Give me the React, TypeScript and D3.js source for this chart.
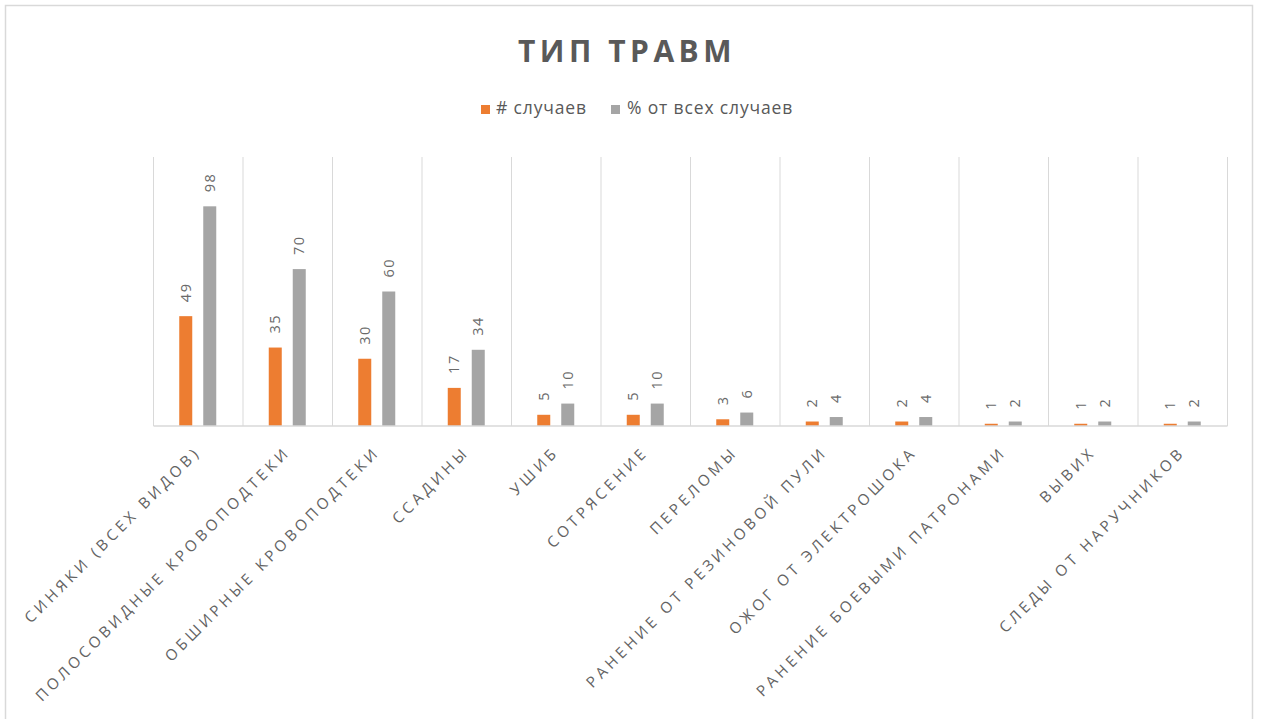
import React from "react";
import * as d3 from "d3";

const categories = [
  "СИНЯКИ (ВСЕХ ВИДОВ)",
  "ПОЛОСОВИДНЫЕ КРОВОПОДТЕКИ",
  "ОБШИРНЫЕ КРОВОПОДТЕКИ",
  "ССАДИНЫ",
  "УШИБ",
  "СОТРЯСЕНИЕ",
  "ПЕРЕЛОМЫ",
  "РАНЕНИЕ ОТ РЕЗИНОВОЙ ПУЛИ",
  "ОЖОГ ОТ ЭЛЕКТРОШОКА",
  "РАНЕНИЕ БОЕВЫМИ ПАТРОНАМИ",
  "ВЫВИХ",
  "СЛЕДЫ ОТ НАРУЧНИКОВ",
];
const cases = [49, 35, 30, 17, 5, 5, 3, 2, 2, 1, 1, 1];
const percents = [98, 70, 60, 34, 10, 10, 6, 4, 4, 2, 2, 2];
const seriesNames = ["# случаев", "% от всех случаев"];
const seriesColors = ["#ED7D31", "#A5A5A5"];
const title = "ТИП ТРАВМ";

const W = 1261;
const H = 719;
const plot = { left: 153.5, right: 1227.5, top: 157, bottom: 426 };
const textColor = "#595959";
const font = "'Open Sans', 'Noto Sans', sans-serif";

export default function App() {
  const x0 = d3.scaleBand<string>().domain(categories).range([plot.left, plot.right]).padding(0);
  const x1 = d3
    .scaleBand<number>()
    .domain([0, 1])
    .range([0, 37])
    .paddingInner(0.458)
    .paddingOuter(0);
  const y = d3.scaleLinear().domain([0, 120]).range([plot.bottom, plot.top]);
  const series = [cases, percents];
  const bw = x1.bandwidth();
  const gridXs = d3.range(categories.length + 1).map((i) => plot.left + i * x0.step());

  return (
    <svg
      width={W}
      height={H}
      style={{ position: "absolute", left: 0, top: 0, background: "#fff" }}
      fontFamily={font}
    >
      <rect x={5.5} y={5.5} width={1247} height={740} fill="#fff" stroke="#d9d9d9" strokeWidth={1.5} />
      <text
        x={627}
        y={62}
        textAnchor="middle"
        fontSize={30}
        fontWeight={700}
        letterSpacing={4.5}
        fill={textColor}
      >
        {title}
      </text>
      {/* legend */}
      <g fontSize={17.5} letterSpacing={0.85} fill={textColor}>
        <rect x={481} y={105} width={9} height={9} fill={seriesColors[0]} />
        <text x={496} y={114}>{seriesNames[0]}</text>
        <rect x={611} y={105} width={9} height={9} fill={seriesColors[1]} />
        <text x={627} y={114}>{seriesNames[1]}</text>
      </g>
      {/* gridlines */}
      {gridXs.map((gx, i) => (
        <line key={i} x1={gx} x2={gx} y1={plot.top} y2={plot.bottom} stroke="#d9d9d9" strokeWidth={1} />
      ))}
      {/* bars */}
      {categories.map((c, i) => {
        const cx = (x0(c) as number) + x0.bandwidth() / 2;
        const start = cx - 18.5 - 0.5;
        return (
          <g key={c}>
            {series.map((s, j) => {
              const bx = start + (x1(j) as number);
              const by = y(s[i]);
              return (
                <g key={j}>
                  <rect x={bx} y={by} width={bw} height={plot.bottom - by} fill={seriesColors[j]} />
                  <text
                    transform={`translate(${bx + bw / 2 + 5},${by - 14}) rotate(-90)`}
                    fontSize={14.5}
                    letterSpacing={1.5}
                    fill="#6a6a6a"
                  >
                    {s[i]}
                  </text>
                </g>
              );
            })}
          </g>
        );
      })}
      <line x1={plot.left} x2={plot.right} y1={plot.bottom} y2={plot.bottom} stroke="#d9d9d9" strokeWidth={1.5} />
      {/* category labels */}
      {categories.map((c) => {
        const cx = (x0(c) as number) + x0.bandwidth() / 2;
        return (
          <text
            key={c}
            transform={`translate(${cx + 3.5},453) rotate(-45)`}
            textAnchor="end"
            fontSize={15.2}
            letterSpacing={3.8}
            fill="#636363"
          >
            {c}
          </text>
        );
      })}
    </svg>
  );
}
